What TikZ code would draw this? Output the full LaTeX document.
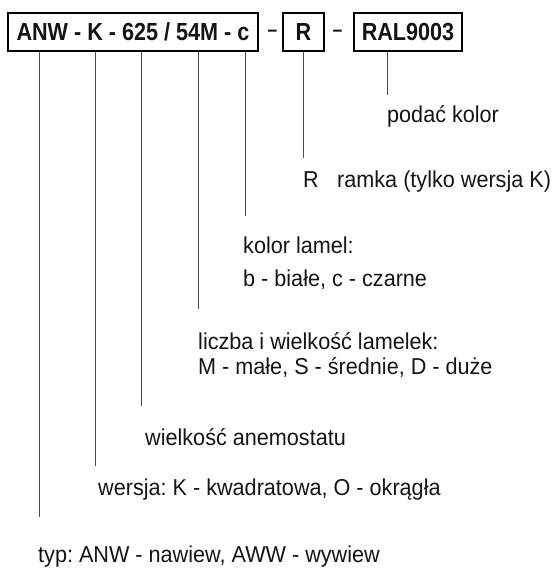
\documentclass[tikz,border=0pt]{standalone}
\usepackage{fontspec}
\setmainfont[FakeStretch=0.94]{Liberation Sans}
\newfontfamily\codefont[FakeStretch=0.875]{Liberation Sans}
\frenchspacing
\begin{document}
\begin{tikzpicture}[x=1pt,y=-1pt,
  codebox/.style={draw=black,line width=2.2pt,inner sep=0pt,minimum height=38pt},
  codetext/.style={font=\codefont\bfseries\fontsize{24.7}{28}\selectfont,text=black!92},
  sep/.style={inner sep=0pt,font=\codefont\bfseries\fontsize{20}{24}\selectfont,text=black!92},
  label/.style={anchor=base west,inner sep=0pt,font=\fontsize{23}{27}\selectfont,text=black!92},
  lead/.style={line width=1pt,draw=black!70}]
\useasboundingbox (0,0) rectangle (556,577);

% code boxes
\node[codebox,codetext,minimum width=250pt] (code) at (133,32) {ANW - K - 625 / 54M - c};
\node[codebox,codetext,minimum width=41pt] (frame) at (303.5,32) {R};
\node[codebox,codetext,minimum width=108pt] (ral) at (408,32) {RAL9003};
\node[sep] (dashA) at (272.5,33.5) {–};
\node[sep] (dashB) at (337.5,33.5) {–};

% descriptions
\node[label] (colour) at (387,123) {podać kolor};
\node[label] (rsym) at (303,188) {R};
\node[label] (rtext) at (337,188) {ramka (tylko wersja K)};
\node[label] (slatA) at (243,253) {kolor lamel:};
\node[label] (slatB) at (243,286) {b - białe, c - czarne};
\node[label] (sizeA) at (198,349) {liczba i wielkość lamelek:};
\node[label] (sizeB) at (198,374) {M - małe, S - średnie, D - duże};
\node[label] (diff) at (145,445) {wielkość anemostatu};
\node[label] (ver) at (98,495) {wersja: K - kwadratowa, O - okrągła};
\node[label] (typ) at (38,562) {typ: ANW - nawiew, AWW - wywiew};

% lower ends of the leader lines
\coordinate (eANW) at (39,517);
\coordinate (eK) at (95,466);
\coordinate (e625) at (141,406);
\coordinate (e54M) at (198,309);
\coordinate (ec) at (245,216);
\coordinate (eR) at (303,158);
\coordinate (eRAL) at (387,95);

% leader lines
\draw[lead] (code.south -| eANW) -- (eANW);
\draw[lead] (code.south -| eK) -- (eK);
\draw[lead] (code.south -| e625) -- (e625);
\draw[lead] (code.south -| e54M) -- (e54M);
\draw[lead] (code.south -| ec) -- (ec);
\draw[lead] (frame.south -| eR) -- (eR);
\draw[lead] (ral.south -| eRAL) -- (eRAL);
\end{tikzpicture}
\end{document}
